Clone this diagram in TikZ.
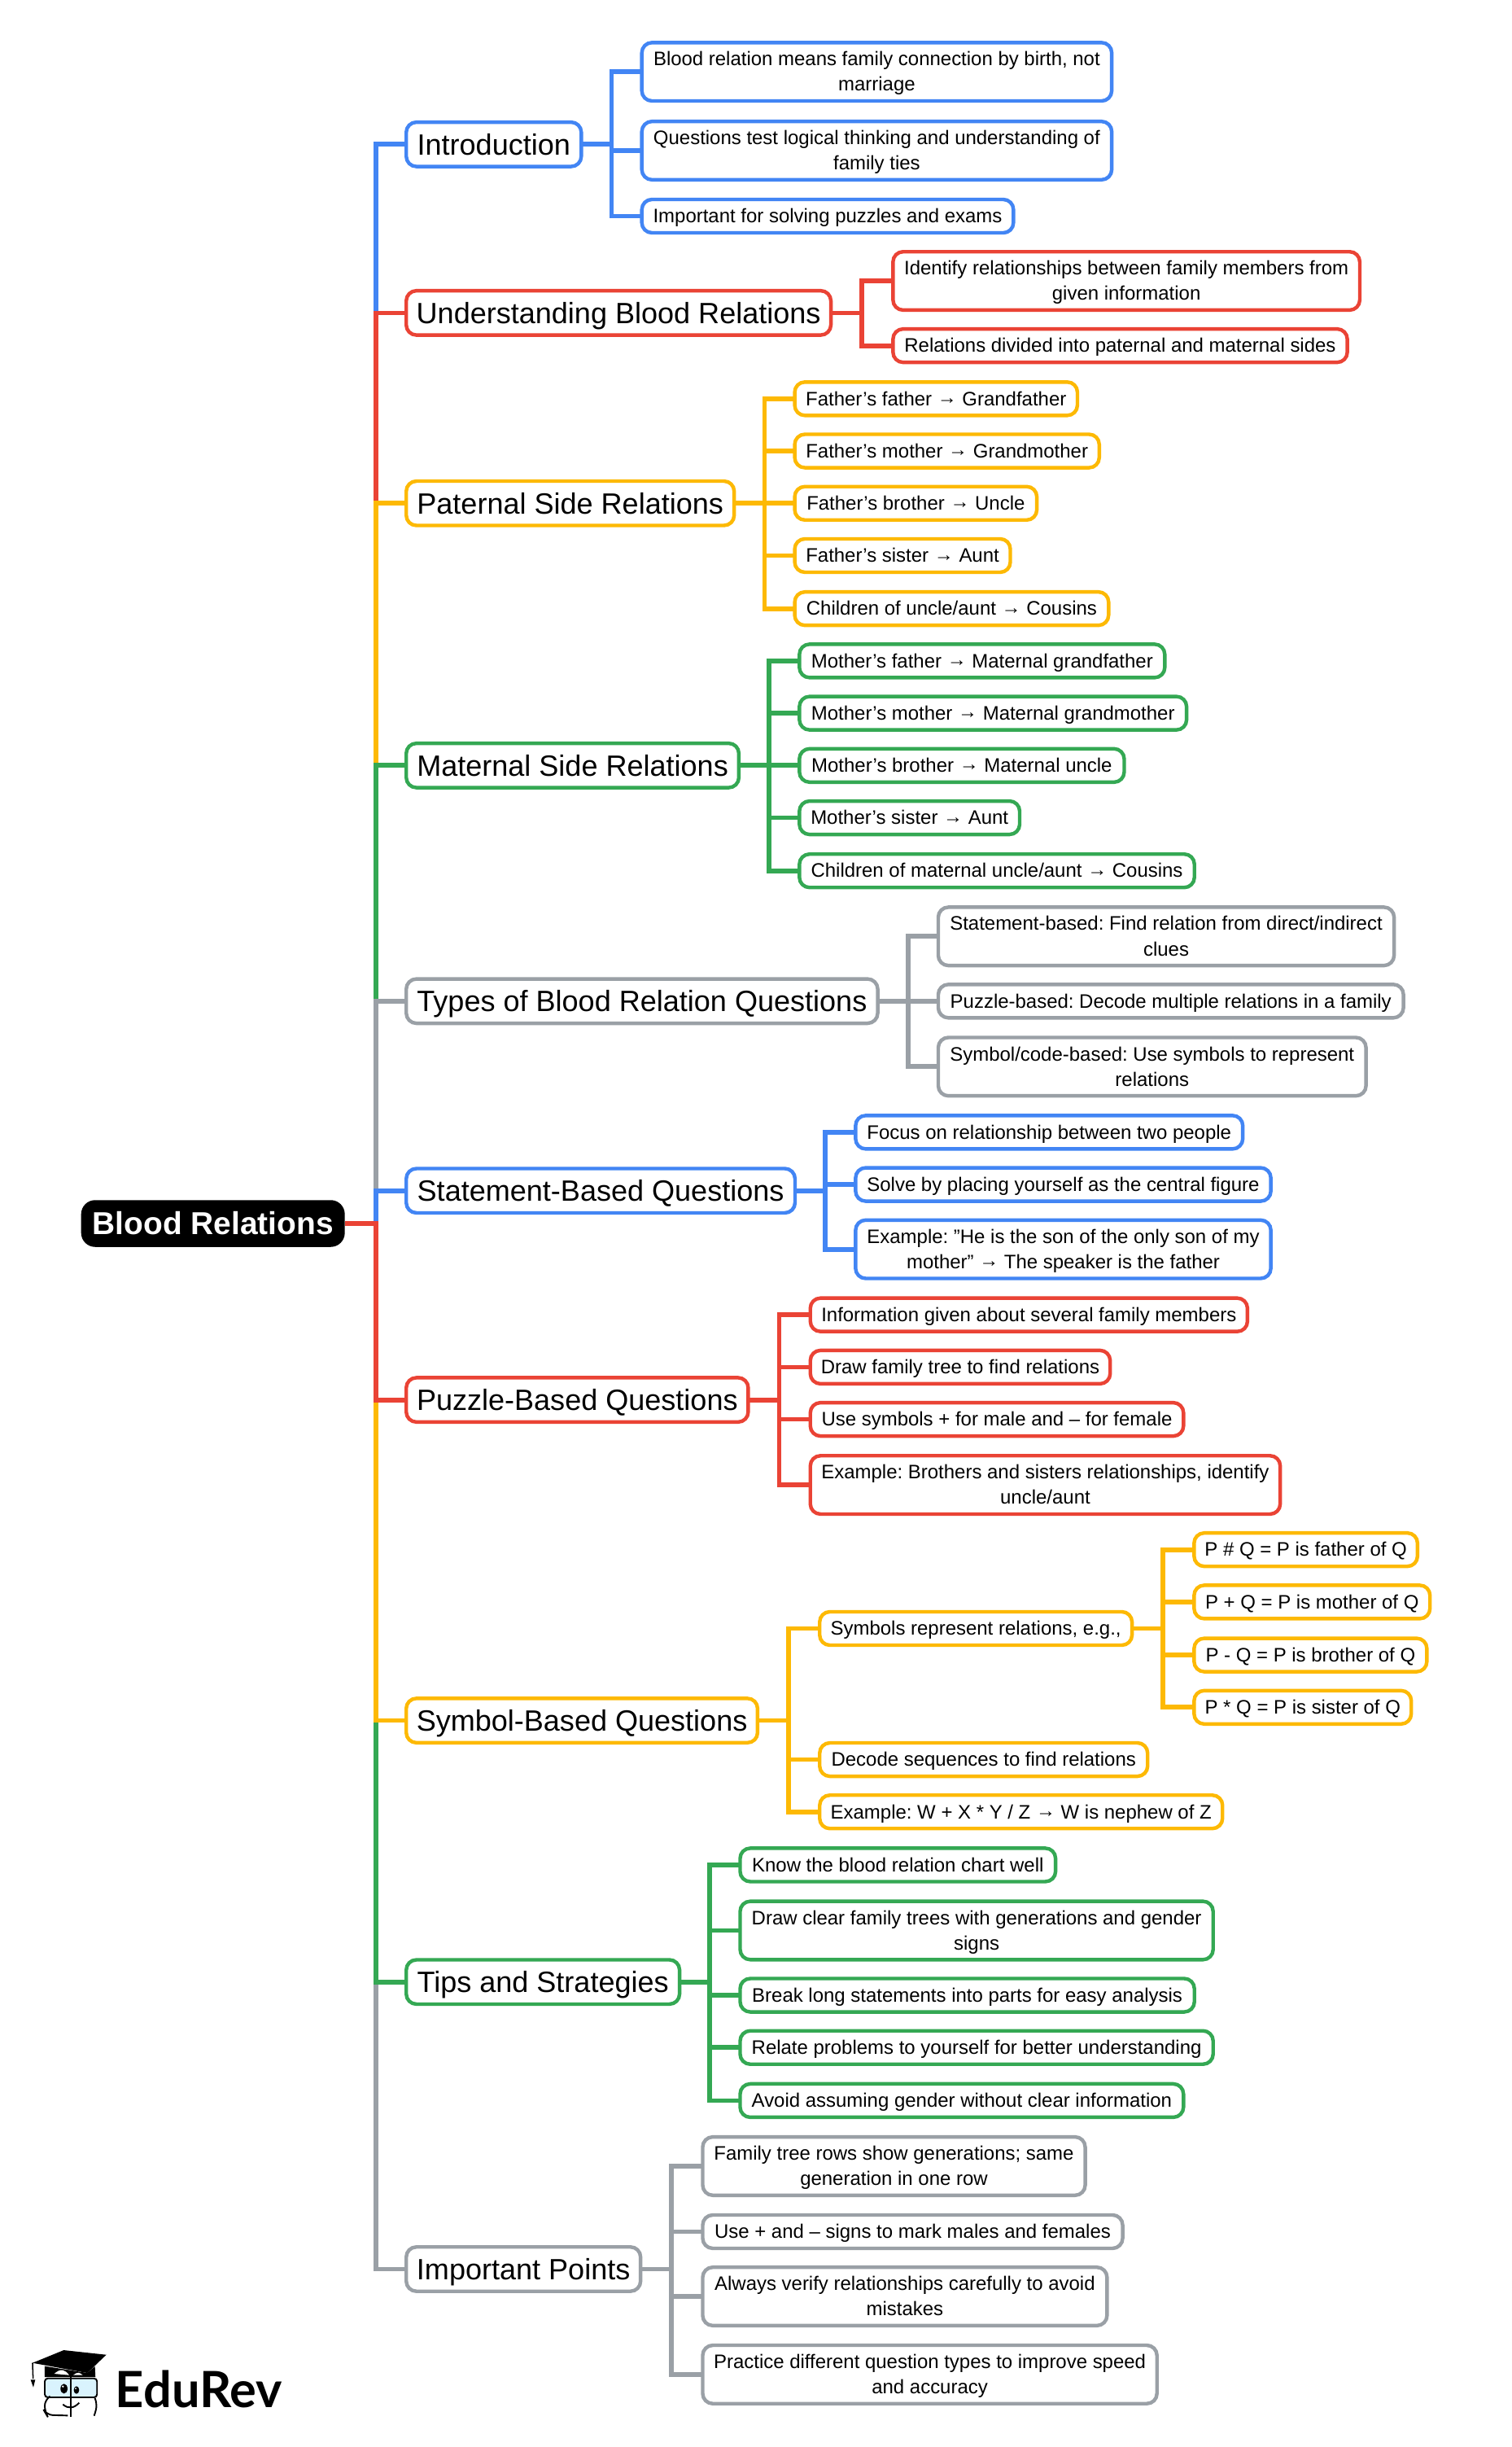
\documentclass[tikz,border=0pt]{standalone}
\usepackage{fontspec}
\setmainfont{Liberation Sans}
\newfontfamily\logofont{Lato}
\usetikzlibrary{calc}
\frenchspacing
\definecolor{cblue}{HTML}{4285F4}
\definecolor{cred}{HTML}{EA4335}
\definecolor{cyel}{HTML}{FDB904}
\definecolor{cgrn}{HTML}{34A853}
\definecolor{cgry}{HTML}{9AA0A6}
\newcommand{\arr}{\raisebox{0.9pt}{→}}
\tikzset{
  x=1pt,y=-1pt,
  anybox/.style={draw=#1,line width=2.3pt,rounded corners=6.5pt,inner sep=0pt,outer sep=0pt,anchor=west,align=center,text=black},
  leafbox/.style={anybox=#1,font=\fontsize{12.5}{16.2}\selectfont},
  headbox/.style={anybox=#1,font=\fontsize{18.8}{24}\selectfont,minimum height=28.4pt},
  rootbox/.style={fill=black,rounded corners=9pt,inner sep=0pt,outer sep=0pt,anchor=west,text=white,font=\fontsize{20.3}{25}\selectfont\bfseries,minimum height=30pt},
  conn/.style={draw=#1,line width=3pt},
}
\newcommand{\leafnode}[7]{\node[leafbox=#2,minimum width={(#4-#3-0.8)*1pt},minimum height={(#6-0.6)*1pt}] (#1) at (#3+0.4,#5) {\rule{0pt}{13pt}#7\rule[-4.4pt]{0pt}{4.4pt}};}
\newcommand{\headnode}[6]{\node[headbox=#2,minimum width={(#4-#3-0.8)*1pt}] (#1) at (#3+0.4,#5) {\rule{0pt}{19pt}#6\rule[-5.4pt]{0pt}{5.4pt}};}
\newcommand{\lnk}[3]{\draw[conn=#1] (#2.east) -- ($(#2.east)!.5!(#2.east -| #3.west)$) |- (#3.west);}
\newcommand{\trunk}[2]{\draw[conn=#1] (root.east) -- (tx) -- (tx |- #2.west) -- (#2.west);}
\begin{document}
\begin{tikzpicture}
\path[use as bounding box,fill=white] (0,0) rectangle (969,1568);
\node[rootbox,minimum width=169pt] (root) at (52,784) {\rule{0pt}{20pt}Blood Relations\rule[-5.8pt]{0pt}{5.8pt}};
\coordinate (tx) at (241,784);
% heads
\headnode{h1}{cblue}{260}{373}{92.5}{Introduction}
\headnode{h2}{cred}{260}{533}{200.5}{Understanding Blood Relations}
\headnode{h3}{cyel}{260}{471}{322.5}{Paternal Side Relations}
\headnode{h4}{cgrn}{260}{474}{490.5}{Maternal Side Relations}
\headnode{h5}{cgry}{260}{563}{641.5}{Types of Blood Relation Questions}
\headnode{h6}{cblue}{260}{510}{763}{Statement-Based Questions}
\headnode{h7}{cred}{260}{480}{897}{Puzzle-Based Questions}
\headnode{h8}{cyel}{260}{486}{1102.5}{Symbol-Based Questions}
\headnode{h9}{cgrn}{260}{436}{1270}{Tips and Strategies}
\headnode{h10}{cgry}{260}{411}{1454}{Important Points}
% trunk
\trunk{cblue}{h1}\trunk{cred}{h2}\trunk{cyel}{h3}\trunk{cgrn}{h4}\trunk{cgry}{h5}\trunk{cblue}{h6}
\trunk{cgry}{h10}\trunk{cgrn}{h9}\trunk{cyel}{h8}\trunk{cred}{h7}
% intro
\leafnode{a1}{cblue}{411}{713}{46}{38}{Blood relation means family connection by birth, not\\marriage}
\leafnode{a2}{cblue}{411}{713}{96.5}{38}{Questions test logical thinking and understanding of\\family ties}
\leafnode{a3}{cblue}{411}{650}{138.5}{22}{Important for solving puzzles and exams}
\lnk{cblue}{h1}{a1}\lnk{cblue}{h1}{a2}\lnk{cblue}{h1}{a3}
% understanding
\leafnode{b1}{cred}{572}{872}{180}{38}{Identify relationships between family members from\\given information}
\leafnode{b2}{cred}{572}{864}{221.5}{22}{Relations divided into paternal and maternal sides}
\lnk{cred}{h2}{b1}\lnk{cred}{h2}{b2}
% paternal
\leafnode{c1}{cyel}{509}{691}{255.5}{22}{Father’s father \arr{} Grandfather}
\leafnode{c2}{cyel}{509}{705}{289}{22}{Father’s mother \arr{} Grandmother}
\leafnode{c3}{cyel}{509}{665}{322.5}{22}{Father’s brother \arr{} Uncle}
\leafnode{c4}{cyel}{509}{648}{356}{22}{Father’s sister \arr{} Aunt}
\leafnode{c5}{cyel}{509}{711}{390}{22}{Children of uncle/aunt \arr{} Cousins}
\lnk{cyel}{h3}{c1}\lnk{cyel}{h3}{c2}\lnk{cyel}{h3}{c3}\lnk{cyel}{h3}{c4}\lnk{cyel}{h3}{c5}
% maternal
\leafnode{d1}{cgrn}{512}{747}{423.5}{22}{Mother’s father \arr{} Maternal grandfather}
\leafnode{d2}{cgrn}{512}{761}{457}{22}{Mother’s mother \arr{} Maternal grandmother}
\leafnode{d3}{cgrn}{512}{721}{490.5}{22}{Mother’s brother \arr{} Maternal uncle}
\leafnode{d4}{cgrn}{512}{654}{524}{22}{Mother’s sister \arr{} Aunt}
\leafnode{d5}{cgrn}{512}{766}{558}{22}{Children of maternal uncle/aunt \arr{} Cousins}
\lnk{cgrn}{h4}{d1}\lnk{cgrn}{h4}{d2}\lnk{cgrn}{h4}{d3}\lnk{cgrn}{h4}{d4}\lnk{cgrn}{h4}{d5}
% types
\leafnode{e1}{cgry}{601}{894}{600}{38}{Statement-based: Find relation from direct/indirect\\clues}
\leafnode{e2}{cgry}{601}{900}{641.5}{22}{Puzzle-based: Decode multiple relations in a family}
\leafnode{e3}{cgry}{601}{876}{683.5}{38}{Symbol/code-based: Use symbols to represent\\relations}
\lnk{cgry}{h5}{e1}\lnk{cgry}{h5}{e2}\lnk{cgry}{h5}{e3}
% statement
\leafnode{f1}{cblue}{548}{797}{725.5}{22}{Focus on relationship between two people}
\leafnode{f2}{cblue}{548}{815}{759}{22}{Solve by placing yourself as the central figure}
\leafnode{f3}{cblue}{548}{815}{800.5}{38}{Example: "He is the son of the only son of my\\mother" \arr{} The speaker is the father}
\lnk{cblue}{h6}{f1}\lnk{cblue}{h6}{f2}\lnk{cblue}{h6}{f3}
% puzzle
\leafnode{g1}{cred}{519}{800}{842.5}{22}{Information given about several family members}
\leafnode{g2}{cred}{519}{712}{876}{22}{Draw family tree to find relations}
\leafnode{g3}{cred}{519}{759}{909.5}{22}{Use symbols + for male and – for female}
\leafnode{g4}{cred}{519}{821}{951.5}{38}{Example: Brothers and sisters relationships, identify\\uncle/aunt}
\lnk{cred}{h7}{g1}\lnk{cred}{h7}{g2}\lnk{cred}{h7}{g3}\lnk{cred}{h7}{g4}
% symbol
\leafnode{k1}{cyel}{525}{726}{1043.5}{22}{Symbols represent relations, e.g.,}
\leafnode{k2}{cyel}{525}{736}{1127.5}{22}{Decode sequences to find relations}
\leafnode{k3}{cyel}{525}{784}{1161}{22}{Example: W + X * Y / Z \arr{} W is nephew of Z}
\lnk{cyel}{h8}{k1}\lnk{cyel}{h8}{k2}\lnk{cyel}{h8}{k3}
\leafnode{m1}{cyel}{765}{909}{993}{22}{P \# Q = P is father of Q}
\leafnode{m2}{cyel}{765}{917}{1026.5}{22}{P + Q = P is mother of Q}
\leafnode{m3}{cyel}{765}{915}{1060.5}{22}{P - Q = P is brother of Q}
\leafnode{m4}{cyel}{765}{905}{1094}{22}{P * Q = P is sister of Q}
\lnk{cyel}{k1}{m1}\lnk{cyel}{k1}{m2}\lnk{cyel}{k1}{m3}\lnk{cyel}{k1}{m4}
% tips
\leafnode{n1}{cgrn}{474}{677}{1195}{22}{Know the blood relation chart well}
\leafnode{n2}{cgrn}{474}{778}{1237}{38}{Draw clear family trees with generations and gender\\signs}
\leafnode{n3}{cgrn}{474}{766}{1278.5}{22}{Break long statements into parts for easy analysis}
\leafnode{n4}{cgrn}{474}{778}{1312}{22}{Relate problems to yourself for better understanding}
\leafnode{n5}{cgrn}{474}{759}{1346}{22}{Avoid assuming gender without clear information}
\lnk{cgrn}{h9}{n1}\lnk{cgrn}{h9}{n2}\lnk{cgrn}{h9}{n3}\lnk{cgrn}{h9}{n4}\lnk{cgrn}{h9}{n5}
% important
\leafnode{p1}{cgry}{450}{696}{1388}{38}{Family tree rows show generations; same\\generation in one row}
\leafnode{p2}{cgry}{450}{720}{1430}{22}{Use + and – signs to mark males and females}
\leafnode{p3}{cgry}{450}{710}{1471.5}{38}{Always verify relationships carefully to avoid\\mistakes}
\leafnode{p4}{cgry}{450}{742}{1521.5}{38}{Practice different question types to improve speed\\and accuracy}
\lnk{cgry}{h10}{p1}\lnk{cgry}{h10}{p2}\lnk{cgry}{h10}{p3}\lnk{cgry}{h10}{p4}
% logo
\begin{scope}[shift={(0,1486.3)},x=0.1738pt,y=-0.1738pt]
\fill[black] (120,160) -- (235,113) -- (392,130) -- (322,197) -- cycle;
\fill[black] (165,172) -- (322,197) -- (350,172) -- (352,212) -- (165,212) -- cycle;
\draw[black,line width=0.8pt] (120,160) -- (122,218);
\fill[black] (113,222) -- (130,222) -- (123,250) -- cycle;
\fill[white] (200,200) .. controls (225,178) and (240,185) .. (255,205) -- cycle;
\fill[white] (270,205) .. controls (285,192) and (295,195) .. (305,205) -- cycle;
\draw[black,line width=1pt,fill=cyan!15,rounded corners=2pt] (165,217) rectangle (358,287);
\draw[black,line width=1pt,rounded corners=4pt] (250,354) -- (172,352) -- (165,340) -- (165,295) -- (175,289);
\draw[black,line width=1pt] (347,355) .. controls (358,325) and (358,310) .. (350,289);
\draw[black,line width=1pt] (261,210) -- (261,358);
\fill[black] (236,255) ellipse [x radius=13,y radius=18];
\fill[black] (282,260) ellipse [x radius=10,y radius=14];
\fill[white] (232,247) circle (4);
\fill[white] (279,254) circle (3);
\draw[black,line width=1pt] (232,313) .. controls (252,330) and (272,328) .. (292,307);
\node[anchor=west,inner sep=0pt,font=\logofont\fontsize{32}{32}\selectfont\bfseries] (logo) at (425,256) {EduRev};
\end{scope}
\end{tikzpicture}
\end{document}
